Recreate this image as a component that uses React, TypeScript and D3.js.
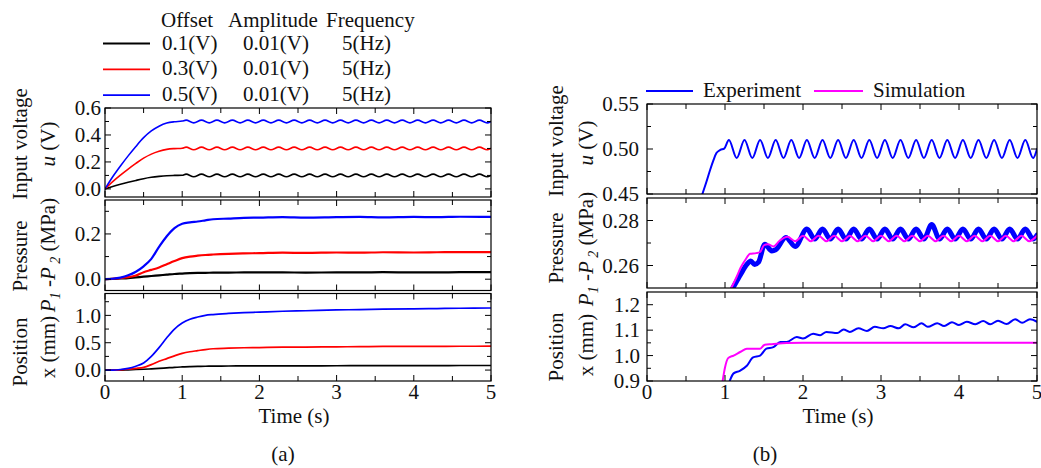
import React from "react";
import * as d3 from "d3";

const SERIF = "'Liberation Serif', 'Times New Roman', serif";
const INK = "#111";
const BLACK = "#000000";
const RED = "#ff0000";
const BLUE = "#0000ff";
const MAGENTA = "#ff00ff";

// ---------- (a) responses for three offsets ----------
// input voltage: ramp to the offset, then 5 Hz ripple (peaks / troughs)
const uTimeA = [
  0, 0.1, 0.2, 0.3, 0.4, 0.5, 0.6, 0.7, 0.8, 0.9, 1.0,
  1.05, 1.15, 1.25, 1.35, 1.45, 1.55, 1.65, 1.75, 1.85, 1.95,
  2.05, 2.15, 2.25, 2.35, 2.45, 2.55, 2.65, 2.75, 2.85, 2.95,
  3.05, 3.15, 3.25, 3.35, 3.45, 3.55, 3.65, 3.75, 3.85, 3.95,
  4.05, 4.15, 4.25, 4.35, 4.45, 4.55, 4.65, 4.75, 4.85, 4.95,
  5.0,
];
const uOffset05 = [
  0, 0.09, 0.17, 0.245, 0.315, 0.38, 0.43, 0.465, 0.488, 0.498, 0.503,
  0.51, 0.49, 0.51, 0.49, 0.51, 0.49, 0.51, 0.49, 0.51, 0.49,
  0.51, 0.49, 0.51, 0.49, 0.51, 0.49, 0.51, 0.49, 0.51, 0.49,
  0.51, 0.49, 0.51, 0.49, 0.51, 0.49, 0.51, 0.49, 0.51, 0.49,
  0.51, 0.49, 0.51, 0.49, 0.51, 0.49, 0.51, 0.49, 0.51, 0.49,
  0.5,
];
const uOffset03 = [
  0, 0.054, 0.102, 0.147, 0.189, 0.228, 0.258, 0.279, 0.293, 0.299, 0.302,
  0.31, 0.29, 0.31, 0.29, 0.31, 0.29, 0.31, 0.29, 0.31, 0.29,
  0.31, 0.29, 0.31, 0.29, 0.31, 0.29, 0.31, 0.29, 0.31, 0.29,
  0.31, 0.29, 0.31, 0.29, 0.31, 0.29, 0.31, 0.29, 0.31, 0.29,
  0.31, 0.29, 0.31, 0.29, 0.31, 0.29, 0.31, 0.29, 0.31, 0.29,
  0.3,
];
const uOffset01 = [
  0, 0.018, 0.034, 0.049, 0.063, 0.076, 0.086, 0.093, 0.098, 0.1, 0.101,
  0.11, 0.09, 0.11, 0.09, 0.11, 0.09, 0.11, 0.09, 0.11, 0.09,
  0.11, 0.09, 0.11, 0.09, 0.11, 0.09, 0.11, 0.09, 0.11, 0.09,
  0.11, 0.09, 0.11, 0.09, 0.11, 0.09, 0.11, 0.09, 0.11, 0.09,
  0.11, 0.09, 0.11, 0.09, 0.11, 0.09, 0.11, 0.09, 0.11, 0.09,
  0.1,
];

// pressure difference and spool position
const stateTimeA = [
  0, 0.1, 0.2, 0.3, 0.4, 0.5, 0.6, 0.7, 0.8, 0.9, 1.0, 1.1, 1.2, 1.3, 1.4,
  1.6, 1.8, 2.0, 2.3, 2.6, 3.0, 3.3, 3.6, 4.0, 4.3, 4.6, 5.0,
];
const pOffset05 = [
  0, 0.002, 0.007, 0.017, 0.033, 0.057, 0.09, 0.143, 0.19, 0.226, 0.245, 0.251, 0.255, 0.26, 0.265,
  0.268, 0.271, 0.272, 0.274, 0.272, 0.274, 0.275, 0.273, 0.275, 0.274, 0.276, 0.275,
];
const pOffset03 = [
  0, 0.002, 0.005, 0.009, 0.016, 0.031, 0.041, 0.052, 0.066, 0.08, 0.093, 0.1, 0.104, 0.107, 0.109,
  0.112, 0.114, 0.115, 0.117, 0.116, 0.118, 0.117, 0.119, 0.118, 0.119, 0.12, 0.12,
];
const pOffset01 = [
  0, 0.001, 0.003, 0.005, 0.008, 0.011, 0.014, 0.017, 0.02, 0.023, 0.025, 0.027, 0.028, 0.028, 0.029,
  0.029, 0.03, 0.03, 0.03, 0.029, 0.03, 0.03, 0.031, 0.03, 0.03, 0.031, 0.031,
];
const xOffset05 = [
  0, 0, 0.01, 0.03, 0.07, 0.13, 0.25, 0.41, 0.59, 0.75, 0.86, 0.93, 0.97, 1.0, 1.015,
  1.035, 1.05, 1.06, 1.075, 1.085, 1.1, 1.105, 1.115, 1.12, 1.125, 1.13, 1.135,
];
const xOffset03 = [
  0, 0, 0.005, 0.015, 0.03, 0.05, 0.1, 0.16, 0.21, 0.26, 0.305, 0.335, 0.355, 0.375, 0.39,
  0.4, 0.408, 0.412, 0.418, 0.42, 0.425, 0.428, 0.432, 0.433, 0.434, 0.435, 0.436,
];
const xOffset01 = [
  0, 0, 0, 0.005, 0.01, 0.015, 0.022, 0.03, 0.04, 0.05, 0.057, 0.063, 0.067, 0.07, 0.072,
  0.074, 0.076, 0.077, 0.078, 0.078, 0.079, 0.08, 0.081, 0.082, 0.082, 0.083, 0.083,
];

// ---------- (b) 0.5 V case: experiment vs simulation ----------
const uTimeB = [
  0.71, 0.76, 0.81, 0.85, 0.89, 0.94, 0.99,
  1.05, 1.15, 1.25, 1.35, 1.45, 1.55, 1.65, 1.75, 1.85, 1.95,
  2.05, 2.15, 2.25, 2.35, 2.45, 2.55, 2.65, 2.75, 2.85, 2.95,
  3.05, 3.15, 3.25, 3.35, 3.45, 3.55, 3.65, 3.75, 3.85, 3.95,
  4.05, 4.15, 4.25, 4.35, 4.45, 4.55, 4.65, 4.75, 4.85, 4.95,
  5.0,
];
const uExpB = [
  0.45, 0.463, 0.477, 0.487, 0.4955, 0.499, 0.5004,
  0.51, 0.49, 0.51, 0.49, 0.51, 0.49, 0.51, 0.49, 0.51, 0.49,
  0.51, 0.49, 0.51, 0.49, 0.51, 0.49, 0.51, 0.49, 0.51, 0.49,
  0.51, 0.49, 0.51, 0.49, 0.51, 0.49, 0.51, 0.49, 0.51, 0.49,
  0.51, 0.49, 0.51, 0.49, 0.51, 0.49, 0.51, 0.49, 0.51, 0.49,
  0.5,
];

const pExpTimeB = [
  1.1, 1.15, 1.2, 1.28, 1.33, 1.38, 1.43, 1.51, 1.6, 1.65, 1.78, 1.9,
  2.05, 2.15, 2.25, 2.35, 2.45, 2.55, 2.65, 2.75, 2.85, 2.95,
  3.05, 3.15, 3.25, 3.35, 3.45, 3.55, 3.65, 3.75, 3.85, 3.95,
  4.05, 4.15, 4.25, 4.35, 4.45, 4.55, 4.65, 4.75, 4.85, 4.95,
  5.0,
];
const pExpB = [
  0.25, 0.253, 0.256, 0.2605, 0.262, 0.2605, 0.2615, 0.2695, 0.2665, 0.267, 0.2725, 0.2685,
  0.2762, 0.2718, 0.2762, 0.2718, 0.2762, 0.2718, 0.2762, 0.2718, 0.2762, 0.2718,
  0.2762, 0.2718, 0.2762, 0.2718, 0.2762, 0.2718, 0.2782, 0.2718, 0.2762, 0.2718,
  0.2762, 0.2718, 0.2762, 0.2718, 0.2762, 0.2718, 0.2762, 0.2718, 0.2762, 0.2718,
  0.2735,
];
const pSimTimeB = [
  1.08, 1.15, 1.2, 1.27, 1.32, 1.4, 1.45, 1.5, 1.55, 1.62, 1.7, 1.8, 1.9,
  2.0, 2.1, 2.2, 2.3, 2.4, 2.5, 2.6, 2.7, 2.8, 2.9,
  3.0, 3.1, 3.2, 3.3, 3.4, 3.5, 3.6, 3.7, 3.8, 3.9,
  4.0, 4.1, 4.2, 4.3, 4.4, 4.5, 4.6, 4.7, 4.8, 4.9,
  5.0,
];
const pSimB = [
  0.25, 0.255, 0.259, 0.263, 0.2652, 0.2655, 0.266, 0.269, 0.2695, 0.2685, 0.271, 0.2728, 0.2708,
  0.2732, 0.2708, 0.2732, 0.2708, 0.2732, 0.2708, 0.2732, 0.2708, 0.2732, 0.2708,
  0.2732, 0.2708, 0.2732, 0.2708, 0.2732, 0.2708, 0.2732, 0.2708, 0.2732, 0.2708,
  0.2732, 0.2708, 0.2732, 0.2708, 0.2732, 0.2708, 0.2732, 0.2708, 0.2732, 0.2708,
  0.2732,
];

const xExpTimeB = [
  1.06, 1.11, 1.19, 1.28, 1.36, 1.45, 1.53, 1.62, 1.71, 1.79, 1.92, 2.0,
  2.13, 2.22, 2.3, 2.44, 2.52, 2.6, 2.71, 2.82, 2.92, 3.03, 3.12, 3.23,
  3.31, 3.42, 3.52, 3.6, 3.72, 3.81, 3.91, 4.0, 4.1, 4.21, 4.31, 4.4,
  4.5, 4.61, 4.72, 4.81, 4.91, 5.0,
];
const xExpB = [
  0.9, 0.93, 0.94, 0.96, 0.993, 1.0, 1.027, 1.033, 1.053, 1.053, 1.073, 1.067,
  1.086, 1.08, 1.093, 1.089, 1.103, 1.093, 1.107, 1.097, 1.113, 1.107, 1.116, 1.107,
  1.123, 1.111, 1.127, 1.113, 1.127, 1.116, 1.131, 1.12, 1.133, 1.123, 1.136, 1.123,
  1.137, 1.124, 1.143, 1.129, 1.143, 1.133,
];
const xSimTimeB = [0.97, 1.0, 1.04, 1.11, 1.2, 1.28, 1.45, 1.51, 1.6, 1.79, 2.0, 5.0];
const xSimB = [0.9, 0.953, 0.99, 1.0, 1.015, 1.027, 1.027, 1.043, 1.045, 1.049, 1.05, 1.05];

// ---------- axes ----------
const TIME_MAJOR = [0, 1, 2, 3, 4, 5];
const TIME_MINOR = [0.5, 1.5, 2.5, 3.5, 4.5];

const legendOffsets = ["0.1(V)", "0.3(V)", "0.5(V)"];
const legendAmplitudes = ["0.01(V)", "0.01(V)", "0.01(V)"];
const legendFrequencies = ["5(Hz)", "5(Hz)", "5(Hz)"];
const legendColors = [BLACK, RED, BLUE];

type Trace = { t: number[]; v: number[]; color: string; width: number };

type PlotProps = {
  id: string;
  x: d3.ScaleLinear<number, number>;
  top: number;
  bottom: number;
  domain: [number, number];
  major: number[];
  minor: number[];
  digits: number;
  labelGap: number;
  traces: Trace[];
  timeLabels?: boolean;
};

function Plot({ id, x, top, bottom, domain, major, minor, digits, labelGap, traces, timeLabels }: PlotProps) {
  const y = d3.scaleLinear().domain(domain).range([bottom, top]);
  const [left, right] = x.range();
  const fmt = d3.format(`.${digits}f`);
  const pathOf = (tr: Trace) =>
    d3
      .line<number>()
      .x((_, i) => x(tr.t[i]))
      .y((d) => y(d))
      .curve(d3.curveMonotoneX)(tr.v) ?? "";
  const xTicks: [number, number][] = [
    ...TIME_MAJOR.map((v) => [v, 6] as [number, number]),
    ...TIME_MINOR.map((v) => [v, 5] as [number, number]),
  ];
  const yTicks: [number, number][] = [
    ...major.map((v) => [v, 6] as [number, number]),
    ...minor.map((v) => [v, 4] as [number, number]),
  ];
  return (
    <g>
      <clipPath id={id}>
        <rect x={left} y={top} width={right - left} height={bottom - top} />
      </clipPath>
      <g clipPath={`url(#${id})`}>
        {traces.map((tr, i) => (
          <path
            key={i}
            d={pathOf(tr)}
            fill="none"
            stroke={tr.color}
            strokeWidth={tr.width}
            strokeLinejoin="round"
            strokeLinecap="round"
          />
        ))}
      </g>
      <g stroke="#000" strokeWidth={1}>
        {xTicks.map(([v, len], i) => (
          <g key={`xt${i}`}>
            <line x1={x(v)} x2={x(v)} y1={top} y2={top + len} />
            <line x1={x(v)} x2={x(v)} y1={bottom} y2={bottom - len} />
          </g>
        ))}
        {yTicks.map(([v, len], i) => (
          <g key={`yt${i}`}>
            <line x1={left} x2={left + len} y1={y(v)} y2={y(v)} />
            <line x1={right} x2={right - len} y1={y(v)} y2={y(v)} />
          </g>
        ))}
      </g>
      <rect x={left} y={top} width={right - left} height={bottom - top} fill="none" stroke="#000" strokeWidth={1.2} />
      <g fontFamily={SERIF} fontSize={21} fill={INK}>
        {major.map((v) => (
          <text key={`yl${v}`} x={left - labelGap} y={y(v)} dy="0.34em" textAnchor="end">
            {fmt(v)}
          </text>
        ))}
        {timeLabels &&
          TIME_MAJOR.map((v) => (
            <text key={`xl${v}`} x={x(v)} y={399} textAnchor="middle">
              {v}
            </text>
          ))}
      </g>
    </g>
  );
}

function VTitle({ x, y, children }: { x: number; y: number; children: React.ReactNode }) {
  return (
    <text
      transform={`translate(${x},${y}) rotate(-90)`}
      textAnchor="middle"
      fontFamily={SERIF}
      fontSize={21}
      fill={INK}
    >
      {children}
    </text>
  );
}

function PressureUnit() {
  return (
    <>
      <tspan fontStyle="italic">P</tspan>
      <tspan fontStyle="italic" fontSize={14} dy={5}>1</tspan>
      <tspan dy={-5}> -</tspan>
      <tspan fontStyle="italic">P</tspan>
      <tspan fontStyle="italic" fontSize={14} dy={5}> 2</tspan>
      <tspan dy={-5}> (MPa)</tspan>
    </>
  );
}

export default function App() {
  const xa = d3.scaleLinear().domain([0, 5]).range([105, 491]);
  const xb = d3.scaleLinear().domain([0, 5]).range([647, 1037]);

  return (
    <svg
      width={1041}
      height={468}
      viewBox="0 0 1041 468"
      style={{ position: "absolute", left: 0, top: 0, background: "#fff" }}
    >
      <rect x={0} y={0} width={1041} height={468} fill="#fff" />

      {/* ----- (a) ----- */}
      <g fontFamily={SERIF} fontSize={21} fill={INK}>
        <text x={161} y={27}>Offset</text>
        <text x={228} y={27}>Amplitude</text>
        <text x={326} y={27}>Frequency</text>
        {legendOffsets.map((lab, i) => (
          <g key={lab}>
            <line x1={103} x2={150} y1={43.5 + i * 25.8} y2={43.5 + i * 25.8} stroke={legendColors[i]} strokeWidth={1.8} />
            <text x={162} y={50 + i * 25.4}>{lab}</text>
            <text x={243} y={50 + i * 25.4}>{legendAmplitudes[i]}</text>
            <text x={342} y={50 + i * 25.4}>{legendFrequencies[i]}</text>
          </g>
        ))}
      </g>

      <Plot
        id="a1"
        x={xa}
        top={108}
        bottom={197}
        domain={[-0.06, 0.6]}
        major={[0, 0.2, 0.4, 0.6]}
        minor={[0.1, 0.3, 0.5]}
        digits={1}
        labelGap={4}
        traces={[
          { t: uTimeA, v: uOffset01, color: BLACK, width: 1.6 },
          { t: uTimeA, v: uOffset03, color: RED, width: 1.6 },
          { t: uTimeA, v: uOffset05, color: BLUE, width: 1.6 },
        ]}
      />
      <Plot
        id="a2"
        x={xa}
        top={200}
        bottom={290.5}
        domain={[-0.05, 0.35]}
        major={[0, 0.2]}
        minor={[0.1, 0.3]}
        digits={1}
        labelGap={4}
        traces={[
          { t: stateTimeA, v: pOffset01, color: BLACK, width: 2.2 },
          { t: stateTimeA, v: pOffset03, color: RED, width: 2.2 },
          { t: stateTimeA, v: pOffset05, color: BLUE, width: 2.2 },
        ]}
      />
      <Plot
        id="a3"
        x={xa}
        top={293.5}
        bottom={381}
        domain={[-0.2, 1.4]}
        major={[0, 0.5, 1.0]}
        minor={[0.25, 0.75, 1.25]}
        digits={1}
        labelGap={4}
        timeLabels
        traces={[
          { t: stateTimeA, v: xOffset01, color: BLACK, width: 1.7 },
          { t: stateTimeA, v: xOffset03, color: RED, width: 1.7 },
          { t: stateTimeA, v: xOffset05, color: BLUE, width: 1.7 },
        ]}
      />

      <VTitle x={27} y={144}>Input voltage</VTitle>
      <VTitle x={55} y={144}>
        <tspan fontStyle="italic">u</tspan> (V)
      </VTitle>
      <VTitle x={27} y={256}>Pressure</VTitle>
      <VTitle x={55} y={255}>
        <PressureUnit />
      </VTitle>
      <VTitle x={27} y={352}>Position</VTitle>
      <VTitle x={55} y={347}>x (mm)</VTitle>

      <g fontFamily={SERIF} fontSize={21} fill={INK} textAnchor="middle">
        <text x={294} y={423}>Time (s)</text>
        <text x={283} y={461}>(a)</text>
      </g>

      {/* ----- (b) ----- */}
      <g fontFamily={SERIF} fontSize={21} fill={INK}>
        <line x1={646} x2={693} y1={91} y2={91} stroke={BLUE} strokeWidth={1.8} />
        <text x={703} y={97}>Experiment</text>
        <line x1={814} x2={863} y1={91} y2={91} stroke={MAGENTA} strokeWidth={1.8} />
        <text x={873} y={97}>Simulation</text>
      </g>

      <Plot
        id="b1"
        x={xb}
        top={104}
        bottom={194}
        domain={[0.45, 0.55]}
        major={[0.45, 0.5, 0.55]}
        minor={[0.475, 0.525]}
        digits={2}
        labelGap={8}
        traces={[{ t: uTimeB, v: uExpB, color: BLUE, width: 2 }]}
      />
      <Plot
        id="b2"
        x={xb}
        top={198}
        bottom={288}
        domain={[0.25, 0.29]}
        major={[0.26, 0.28]}
        minor={[0.27]}
        digits={2}
        labelGap={8}
        traces={[
          { t: pExpTimeB, v: pExpB, color: BLUE, width: 5 },
          { t: pSimTimeB, v: pSimB, color: MAGENTA, width: 2 },
        ]}
      />
      <Plot
        id="b3"
        x={xb}
        top={292}
        bottom={381}
        domain={[0.9, 1.25]}
        major={[0.9, 1.0, 1.1, 1.2]}
        minor={[0.95, 1.05, 1.15]}
        digits={1}
        labelGap={7}
        timeLabels
        traces={[
          { t: xExpTimeB, v: xExpB, color: BLUE, width: 2 },
          { t: xSimTimeB, v: xSimB, color: MAGENTA, width: 2 },
        ]}
      />

      <VTitle x={563} y={141}>Input voltage</VTitle>
      <VTitle x={593} y={143}>
        <tspan fontStyle="italic">u</tspan> (V)
      </VTitle>
      <VTitle x={563} y={248}>Pressure</VTitle>
      <VTitle x={593} y={249}>
        <PressureUnit />
      </VTitle>
      <VTitle x={563} y={347}>Position</VTitle>
      <VTitle x={593} y={345}>x (mm)</VTitle>

      <g fontFamily={SERIF} fontSize={21} fill={INK} textAnchor="middle">
        <text x={838} y={423}>Time (s)</text>
        <text x={765} y={461}>(b)</text>
      </g>
    </svg>
  );
}
